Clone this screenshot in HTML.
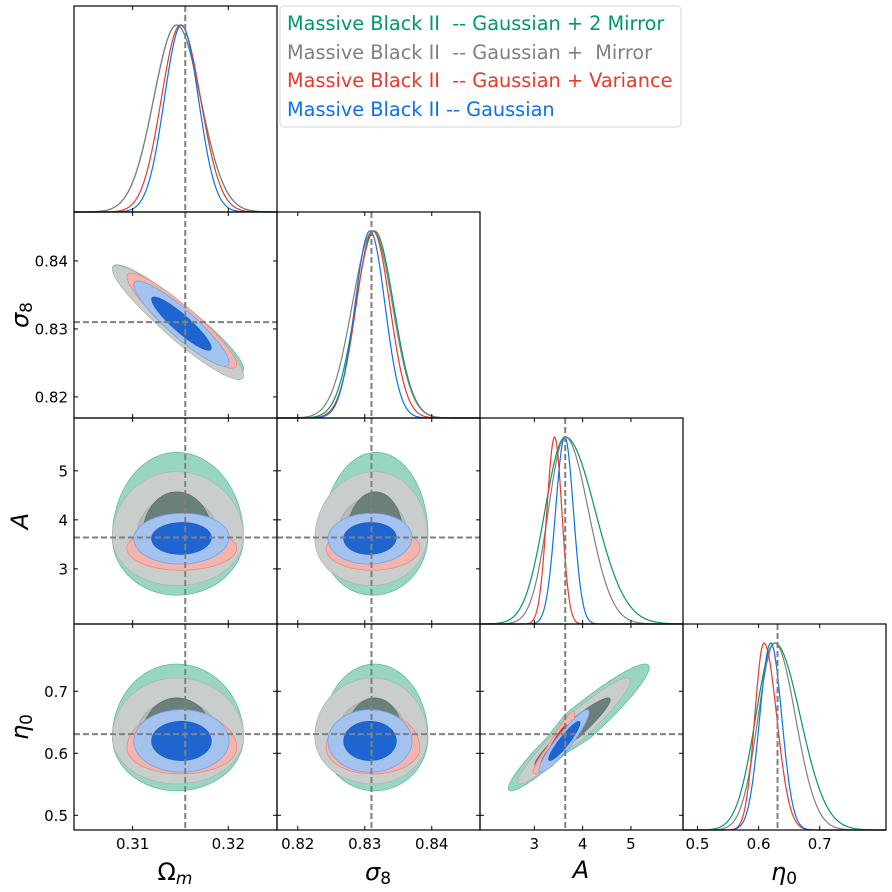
<!DOCTYPE html>
<html><head><meta charset="utf-8"><style>
html,body{margin:0;padding:0;background:#fff;}
svg{display:block;font-family:"DejaVu Sans","Liberation Sans",sans-serif;}
</style></head><body>
<svg id="chart" width="892" height="892" viewBox="0 0 892 892" xmlns="http://www.w3.org/2000/svg" style="position:absolute;left:0;top:0">
<g id="layer-fill"></g>
<g id="layer-lines"></g>
<g id="layer-truth"></g>
<g id="layer-axes"></g>
<g id="legend">
  <rect x="280" y="6" width="401" height="121" rx="4" fill="#fff" stroke="#d6d6d6" stroke-width="1"/>
  <text x="287" y="30" font-size="19.3" fill="#009966" xml:space="preserve">Massive Black II  -- Gaussian + 2 Mirror</text>
  <text x="287" y="59" font-size="19.3" fill="#808080" xml:space="preserve">Massive Black II  -- Gaussian +  Mirror</text>
  <text x="287" y="87" font-size="19.3" fill="#e8392b" xml:space="preserve">Massive Black II  -- Gaussian + Variance</text>
  <text x="287" y="116" font-size="19.3" fill="#0b72ea" xml:space="preserve">Massive Black II -- Gaussian</text>
</g>
<text x="175" y="880" font-size="24" text-anchor="middle">Ω<tspan font-style="italic" font-size="17" dy="4">m</tspan></text>
<text x="378" y="880" font-size="24" text-anchor="middle" font-style="italic">σ<tspan font-style="normal" font-size="17" dy="4">8</tspan></text>
<text x="581" y="878" font-size="24" text-anchor="middle" font-style="italic">A</text>
<text x="784" y="880" font-size="24" text-anchor="middle" font-style="italic">η<tspan font-style="normal" font-size="17" dy="4">0</tspan></text>
<text transform="translate(28,315) rotate(-90)" font-size="24" text-anchor="middle" font-style="italic">σ<tspan font-style="normal" font-size="17" dy="4">8</tspan></text>
<text transform="translate(28,521) rotate(-90)" font-size="24" text-anchor="middle" font-style="italic">A</text>
<text transform="translate(28,727) rotate(-90)" font-size="24" text-anchor="middle" font-style="italic">η<tspan font-style="normal" font-size="17" dy="4">0</tspan></text>
<text id="err" x="300" y="300" font-size="12" fill="#f00"></text>
</svg>
<script>
// series order: green (2 mirror), grey (mirror), red (variance), blue (gaussian)
const seriesNames = ['gaussian-2-mirror','gaussian-mirror','gaussian-variance','gaussian'];
const paramNames = ['omega-m','sigma-8','a','eta-0'];
const truthValues = [0.3155, 0.831, 3.64, 0.631];
const modeOm = [0.3146, 0.3146, 0.3150, 0.3151];
const sigOmL = [0.0024, 0.0024, 0.0020, 0.00178];
const sigOmR = [0.0025, 0.0025, 0.0021, 0.00178];
const modeS8 = [0.83145, 0.83123, 0.83123, 0.83078];
const sigS8L = [0.00280, 0.00310, 0.00250, 0.00224];
const sigS8R = [0.00285, 0.00290, 0.00250, 0.00224];
const modeA = [3.64, 3.64, 3.42, 3.63];
const sigAL = [0.42, 0.35, 0.16, 0.19];
const sigAR = [0.62, 0.48, 0.15, 0.18];
const modeEta = [0.6263, 0.6263, 0.6087, 0.6199];
const sigEL = [0.031, 0.027, 0.015, 0.018];
const sigER = [0.042, 0.034, 0.021, 0.018];
const corrOmS8 = [-0.93, -0.93, -0.92, -0.91];
const corrOmA = [0.0, 0.0, 0.0, 0.03];
const corrOmE = [0.0, 0.0, 0.0, 0.0];
const corrS8A = [0.03, 0.03, 0.02, 0.03];
const corrS8E = [0.0, 0.0, 0.0, 0.0];
const corrAE = [0.95, 0.95, 0.93, 0.92];
const rangeOm = [0.30387, 0.32509];
const rangeS8 = [0.8169, 0.8472];
const rangeA = [1.876, 6.077];
const rangeEta = [0.4763, 0.8085];
const ticksOm = [0.31, 0.32];
const ticksS8 = [0.82, 0.83, 0.84];
const ticksA = [3, 4, 5];
const ticksEta = [0.5, 0.6, 0.7];
const tickLabelsOm = ['0.31','0.32'];
const tickLabelsS8 = ['0.82','0.83','0.84'];
const tickLabelsA = ['3','4','5'];
const tickLabelsEta = ['0.5','0.6','0.7'];

var NS='http://www.w3.org/2000/svg';
var colX=[74,277,480,683], rowY=[6,212,418,624], PW=203, PH=206;
var modes=[modeOm,modeS8,modeA,modeEta];
var sL=[sigOmL,sigS8L,sigAL,sigEL], sR=[sigOmR,sigS8R,sigAR,sigER];
var ranges=[rangeOm,rangeS8,rangeA,rangeEta];
var ticks=[ticksOm,ticksS8,ticksA,ticksEta];
var tickLabels=[tickLabelsOm,tickLabelsS8,tickLabelsA,tickLabelsEta];
var corrTable={'01':corrOmS8,'02':corrOmA,'03':corrOmE,'12':corrS8A,'13':corrS8E,'23':corrAE};
var lineCol=['#009966','#808080','#e8392b','#0b72ea'];
var fillOuter=['#98d6c1','#c9cecc','#f2b4ad','#a4c2ee'];
var fillInner=['#6b807a','#b6bdb9','#d8382c','#1f65d2'];
var edgeOuter=['#5fbf9f','#b0b5b3','#ea8a80','#6fa3ec'];
var edgeInner=['#5d726b','#a5aca8','#c83025','#1a5cc4'];
var K95=2.8, K68=1.75, K68G=1.5;
function sx(p,col,v){var r=ranges[p];return colX[col]+(v-r[0])/(r[1]-r[0])*PW;}
function sy(p,row,v){var r=ranges[p];return rowY[row]+PH-(v-r[0])/(r[1]-r[0])*PH;}
function mk(tag,attrs,parent){var e=document.createElementNS(NS,tag);for(var k in attrs)e.setAttribute(k,String(attrs[k]));parent.appendChild(e);return e;}
var gFill=document.getElementById('layer-fill'),gLines=document.getElementById('layer-lines'),gTruth=document.getElementById('layer-truth'),gAxes=document.getElementById('layer-axes');

function contourPath(s,px,py,k){
  var rho=corrTable[String(px)+String(py)][s];
  var q=Math.sqrt(1-rho*rho);
  var d='';
  for(var t=0;t<=200;t++){
    var a=t/200*2*Math.PI;
    var z1=Math.cos(a), z2=rho*Math.cos(a)+q*Math.sin(a);
    var vx=modes[px][s]+k*z1*(z1<0?sL[px][s]:sR[px][s]);
    var vy=modes[py][s]+k*z2*(z2<0?sL[py][s]:sR[py][s]);
    d+=(t===0?'M':'L')+sx(px,px,vx).toFixed(2)+','+sy(py,py,vy).toFixed(2);
  }
  return d+'Z';
}
try{
var order=[[0,0],[1,0],[1,1],[0,1],[2,0],[2,1],[3,0],[3,1]];
for(var r=1;r<4;r++){for(var c=0;c<r;c++){
  var g=mk('g',{},gFill);
  
  
  for(var o=0;o<order.length;o++){
    var s=order[o][0], lvl=order[o][1];
    var kk=lvl?(s===0?K68G:K68):K95;
    var pth=mk('path',{d:contourPath(s,c,r,kk),fill:lvl?fillInner[s]:fillOuter[s],stroke:lvl?edgeInner[s]:edgeOuter[s],'stroke-width':0.8},g);
    
    
  }
}}
for(var p=0;p<4;p++){
  var g1=mk('g',{},gLines);
  
  
  var rg=ranges[p], base=rowY[p]+PH, peak=187;
  for(var s2=0;s2<4;s2++){var d='';
    for(var i=0;i<=300;i++){var v=rg[0]+(rg[1]-rg[0])*i/300;var dv=v-modes[p][s2];var sg=dv<0?sL[p][s2]:sR[p][s2];
      var y=base-peak*Math.exp(-0.5*dv*dv/(sg*sg));d+=(i?'L':'M')+sx(p,p,v).toFixed(2)+','+y.toFixed(2);}
    var lp=mk('path',{d:d,fill:'none',stroke:lineCol[s2],'stroke-width':1.2},g1);
    
    
  }
}
for(var r3=0;r3<4;r3++){for(var c3=0;c3<=r3;c3++){
  var x=sx(c3,c3,truthValues[c3]);
  var vl=mk('line',{x1:x,x2:x,y1:rowY[r3],y2:rowY[r3]+PH,stroke:'#808080','stroke-width':2,'stroke-dasharray':'6,3'},gTruth);
  
  
  if(c3<r3){var yy=sy(r3,r3,truthValues[r3]);
    var hl=mk('line',{x1:colX[c3],x2:colX[c3]+PW,y1:yy,y2:yy,stroke:'#808080','stroke-width':2,'stroke-dasharray':'6,3'},gTruth);
    
    }
}}
for(var r4=0;r4<4;r4++){for(var c4=0;c4<=r4;c4++){
  var f=mk('rect',{x:colX[c4],y:rowY[r4],width:PW,height:PH,fill:'none',stroke:'#000','stroke-width':1.2},gAxes);
  
  
  for(var i2=0;i2<ticks[c4].length;i2++){var tx=sx(c4,c4,ticks[c4][i2]);
    mk('line',{x1:tx,x2:tx,y1:rowY[r4]+PH,y2:rowY[r4]+PH-4,stroke:'#000','stroke-width':1},gAxes);
    mk('line',{x1:tx,x2:tx,y1:rowY[r4],y2:rowY[r4]+4,stroke:'#000','stroke-width':1},gAxes);
    if(r4===3){var tl=mk('text',{x:tx,y:849,'font-size':15,'text-anchor':'middle',fill:'#000'},gAxes);tl.textContent=tickLabels[c4][i2];
      
      }
  }
  if(c4<r4){for(var i3=0;i3<ticks[r4].length;i3++){var ty=sy(r4,r4,ticks[r4][i3]);
    mk('line',{x1:colX[c4],x2:colX[c4]+4,y1:ty,y2:ty,stroke:'#000','stroke-width':1},gAxes);
    mk('line',{x1:colX[c4]+PW,x2:colX[c4]+PW-4,y1:ty,y2:ty,stroke:'#000','stroke-width':1},gAxes);
    if(c4===0){var tl2=mk('text',{x:68,y:ty+5.5,'font-size':15,'text-anchor':'end',fill:'#000'},gAxes);tl2.textContent=tickLabels[r4][i3];
      
      }
  }}
}}
}catch(e){document.getElementById('err').textContent=String(e);}
</script>
</body></html>
